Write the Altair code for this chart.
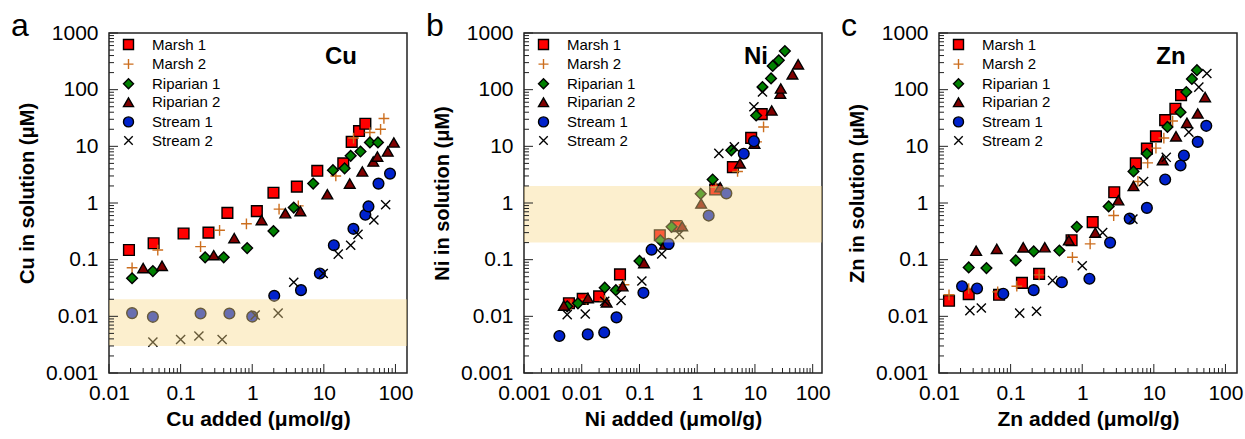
import altair as alt
import pandas as pd

FONT = "Liberation Sans"
SERIES = ["Marsh 1", "Marsh 2", "Riparian 1", "Riparian 2", "Stream 1", "Stream 2"]
SHAPES = ["square", "M-1,0L1,0M0,-1L0,1", "diamond", "triangle-up", "circle",
          "M-0.85,-0.85L0.85,0.85M-0.85,0.85L0.85,-0.85"]
FILLS = ["#FF0000", "transparent", "#008000", "#800000", "#0022CC", "transparent"]
STROKES = ["#000000", "#CC6E1E", "#000000", "#000000", "#000000", "#000000"]

# ---------------- Cu (panel a) ----------------
cu_m1_x = [0.019, 0.042, 0.11, 0.245, 0.45, 1.16, 1.98, 4.2, 8.1, 18.7, 24.5, 31, 38]
cu_m1_y = [0.148, 0.195, 0.29, 0.30, 0.67, 0.72, 1.52, 1.95, 3.7, 5.0, 12, 18.6, 25]
cu_m2_x = [0.021, 0.048, 0.19, 0.35, 0.83, 2.37, 4.4, 14.7, 26, 44, 62, 69]
cu_m2_y = [0.072, 0.148, 0.17, 0.33, 0.43, 0.78, 0.89, 3.0, 14, 17.5, 20, 31]
cu_r1_x = [0.021, 0.041, 0.22, 0.40, 0.85, 1.98, 3.8, 7.1, 13.4, 19.5, 23.7, 32.5, 44, 57]
cu_r1_y = [0.047, 0.063, 0.11, 0.11, 0.16, 0.32, 0.83, 2.2, 3.8, 4.1, 6.8, 8.1, 11.7, 11.7]
cu_r2_x = [0.030, 0.055, 0.29, 0.56, 1.35, 2.9, 4.7, 11.2, 23, 34.5, 49, 56, 78, 95]
cu_r2_y = [0.071, 0.078, 0.12, 0.24, 0.50, 0.66, 0.72, 1.43, 2.2, 3.6, 5.4, 6.6, 8.1, 11.7]
cu_s1_x = [0.021, 0.041, 0.19, 0.48, 1.0, 2.03, 4.8, 8.8, 13.8, 25.9, 38, 42, 58, 84]
cu_s1_y = [0.0114, 0.0098, 0.0112, 0.0112, 0.0099, 0.023, 0.029, 0.057, 0.18, 0.35, 0.62, 0.87, 2.2, 3.3]
cu_s2_x = [0.041, 0.1, 0.18, 0.38, 1.1, 2.3, 3.8, 9.8, 15.9, 23.7, 30, 50, 73]
cu_s2_y = [0.0035, 0.0039, 0.0045, 0.0039, 0.0105, 0.0114, 0.040, 0.057, 0.125, 0.18, 0.28, 0.50, 0.93]
cu_band = [0.003, 0.02]

# ---------------- Ni (panel b) ----------------
ni_m1_x = [0.006, 0.0104, 0.020, 0.046, 0.225, 0.43, 2.05, 4.15, 8.6, 13.1]
ni_m1_y = [0.017, 0.0203, 0.0225, 0.055, 0.27, 0.39, 1.73, 4.3, 14.1, 37]
ni_m2_x = [0.0065, 0.012, 0.025, 0.054, 0.53, 2.1, 5.0, 10.7, 14.1]
ni_m2_y = [0.016, 0.02, 0.019, 0.036, 0.39, 1.9, 3.6, 12, 22]
ni_r1_x = [0.0056, 0.0086, 0.025, 0.039, 0.10, 0.23, 0.36, 1.15, 1.85, 3.9, 10.5, 13.5, 19, 20.3, 25.9, 33]
ni_r1_y = [0.015, 0.017, 0.032, 0.029, 0.095, 0.22, 0.38, 1.45, 2.6, 8.5, 35, 111, 158, 262, 330, 480]
ni_r2_x = [0.0049, 0.0128, 0.027, 0.051, 0.12, 0.275, 0.55, 1.17, 2.5, 5.5, 9.8, 19.5, 27.5, 28, 44.6, 56]
ni_r2_y = [0.0155, 0.021, 0.0176, 0.034, 0.087, 0.185, 0.39, 0.98, 1.9, 5.0, 11.2, 43, 85, 105, 186, 280]
ni_s1_x = [0.0041, 0.0127, 0.0245, 0.040, 0.117, 0.162, 0.32, 1.58, 3.2, 6.4, 9.6]
ni_s1_y = [0.0045, 0.0048, 0.0052, 0.0096, 0.026, 0.15, 0.19, 0.60, 1.48, 7.4, 12.3]
ni_s2_x = [0.0056, 0.0115, 0.025, 0.048, 0.11, 0.243, 0.49, 2.37, 4.4, 9.6, 13.5]
ni_s2_y = [0.0107, 0.011, 0.0185, 0.019, 0.042, 0.126, 0.28, 7.5, 9.8, 50, 91]
ni_band = [0.2, 2.0]

# ---------------- Zn (panel c) ----------------
zn_m1_x = [0.0138, 0.026, 0.069, 0.144, 0.25, 0.71, 1.40, 2.8, 5.6, 8.0, 10.7, 14.4, 20, 24]
zn_m1_y = [0.0188, 0.0246, 0.024, 0.039, 0.056, 0.22, 0.46, 1.55, 5.0, 9.1, 15, 29, 46, 80]
zn_m2_x = [0.0138, 0.026, 0.066, 0.122, 0.25, 0.73, 1.29, 2.75, 6.0, 8.2, 10.7, 13.8, 18.3]
zn_m2_y = [0.024, 0.031, 0.027, 0.034, 0.054, 0.11, 0.19, 0.60, 2.4, 5.1, 9.3, 14, 28]
zn_r1_x = [0.026, 0.046, 0.118, 0.21, 0.48, 0.84, 2.34, 5.2, 8.0, 15.5, 23.6, 28.4, 34, 40]
zn_r1_y = [0.073, 0.071, 0.097, 0.14, 0.145, 0.38, 0.87, 3.6, 7.4, 22, 40, 91, 155, 221]
zn_r2_x = [0.033, 0.064, 0.15, 0.30, 0.65, 1.52, 3.2, 5.2, 13.3, 20.4, 29, 41, 52]
zn_r2_y = [0.144, 0.155, 0.165, 0.166, 0.22, 0.30, 1.12, 2.0, 5.7, 15, 26, 38, 74]
zn_s1_x = [0.021, 0.034, 0.079, 0.21, 0.52, 1.26, 2.45, 4.6, 8.0, 14.4, 23.6, 26.3, 41, 54]
zn_s1_y = [0.034, 0.031, 0.025, 0.029, 0.040, 0.046, 0.20, 0.53, 0.82, 2.6, 4.6, 6.9, 12, 23]
zn_s2_x = [0.027, 0.039, 0.134, 0.23, 0.385, 1.0, 1.93, 5.1, 7.2, 14.9, 30.8, 42.5, 55]
zn_s2_y = [0.0126, 0.014, 0.0114, 0.0123, 0.043, 0.078, 0.30, 0.52, 2.4, 6.4, 17.8, 111, 193]

Y_MAJOR = [0.001, 0.01, 0.1, 1, 10, 100, 1000]
MINOR_MULT = [2, 3, 4, 5, 6, 7, 8, 9]
X_MAX = 145

W, H = 298, 340


def frame(pairs):
    rows = []
    for name, (xs, ys) in zip(SERIES, pairs):
        for xv, yv in zip(xs, ys):
            rows.append({"s": name, "x": xv, "y": yv})
    return pd.DataFrame(rows)


def legend():
    return alt.Legend(title=None, orient="none", legendX=12, legendY=4,
                      labelFont=FONT, labelFontSize=15, labelColor="black",
                      symbolSize=100, symbolStrokeWidth=1.4, rowPadding=2.6,
                      labelOffset=16, padding=0)


def panel(df, xmin, band, elem, letter, xtitle, ytitle):
    xs = alt.Scale(type="log", domain=[xmin, X_MAX], nice=False)
    ys = alt.Scale(type="log", domain=[0.001, 1000], nice=False)
    x_major = [v for v in Y_MAJOR if xmin <= v <= X_MAX]
    x_minor = [m * d for d in x_major for m in MINOR_MULT if m * d <= X_MAX]
    y_minor = [m * d for d in Y_MAJOR[:-1] for m in MINOR_MULT]
    xaxis = alt.Axis(values=x_major, format="~g", title=xtitle, labelFlush=False,
                     labelOverlap=False, labelPadding=9, titlePadding=5, titleFontSize=21)
    yaxis = alt.Axis(values=Y_MAJOR, format="~g", title=ytitle, labelOverlap=False,
                     labelPadding=11, titlePadding=8, titleY=160, titleFontSize=20)

    pts = alt.Chart(df).mark_point(opacity=1, strokeWidth=1.4, size=115).encode(
        x=alt.X("x:Q", scale=xs, axis=xaxis),
        y=alt.Y("y:Q", scale=ys, axis=yaxis),
        shape=alt.Shape("s:N", scale=alt.Scale(domain=SERIES, range=SHAPES), legend=legend()),
        fill=alt.Fill("s:N", scale=alt.Scale(domain=SERIES, range=FILLS), legend=legend()),
        stroke=alt.Stroke("s:N", scale=alt.Scale(domain=SERIES, range=STROKES), legend=legend()),
    )
    layers = [pts]
    if band is not None:
        layers.append(
            alt.Chart(pd.DataFrame({"lo": [band[0]], "hi": [band[1]]}))
            .mark_rect(color="#F7D88A", opacity=0.42)
            .encode(x=alt.value(0), x2=alt.value(W),
                    y=alt.Y("lo:Q", scale=ys, axis=yaxis), y2="hi:Q")
        )
    for vals, ln in ((Y_MAJOR, 9), (y_minor, 5)):
        layers.append(
            alt.Chart(pd.DataFrame({"v": vals})).mark_rule(color="#222", strokeWidth=1)
            .encode(y=alt.Y("v:Q", scale=ys, axis=yaxis), x=alt.value(0), x2=alt.value(ln))
        )
    for vals, ln in ((x_major, 9), (x_minor, 5)):
        layers.append(
            alt.Chart(pd.DataFrame({"v": vals})).mark_rule(color="#222", strokeWidth=1)
            .encode(x=alt.X("v:Q", scale=xs, axis=xaxis), y=alt.value(H), y2=alt.value(H - ln))
        )
    layers.append(
        alt.Chart(alt.Data(values=[{"t": elem}])).mark_text(
            font=FONT, fontSize=24, fontWeight="bold", align="center", baseline="alphabetic",
            color="black").encode(text="t:N", x=alt.value(232), y=alt.value(31))
    )
    layers.append(
        alt.Chart(alt.Data(values=[{"t": letter}])).mark_text(
            font=FONT, fontSize=32, align="left", baseline="alphabetic",
            color="black").encode(text="t:N", x=alt.value(-98), y=alt.value(3))
    )
    return alt.layer(*layers).properties(width=W, height=H)


pa = panel(frame([(cu_m1_x, cu_m1_y), (cu_m2_x, cu_m2_y), (cu_r1_x, cu_r1_y),
                  (cu_r2_x, cu_r2_y), (cu_s1_x, cu_s1_y), (cu_s2_x, cu_s2_y)]),
           0.01, cu_band, "Cu", "a", "Cu added (μmol/g)", "Cu in solution (μM)")
pb = panel(frame([(ni_m1_x, ni_m1_y), (ni_m2_x, ni_m2_y), (ni_r1_x, ni_r1_y),
                  (ni_r2_x, ni_r2_y), (ni_s1_x, ni_s1_y), (ni_s2_x, ni_s2_y)]),
           0.001, ni_band, "Ni", "b", "Ni added (μmol/g)", "Ni in solution (μM)")
pc = panel(frame([(zn_m1_x, zn_m1_y), (zn_m2_x, zn_m2_y), (zn_r1_x, zn_r1_y),
                  (zn_r2_x, zn_r2_y), (zn_s1_x, zn_s1_y), (zn_s2_x, zn_s2_y)]),
           0.01, None, "Zn", "c", "Zn added (μmol/g)", "Zn in solution (μM)")

chart = (
    alt.hconcat(pa, pb, pc, spacing=117, bounds="flush")
    .resolve_legend(shape="independent", fill="independent", stroke="independent")
    .properties(padding={"left": 10, "top": 9, "right": 0, "bottom": 0}, background="white")
    .configure_view(stroke="#222", strokeWidth=1.5)
    .configure_axis(labelFont=FONT, labelFontSize=21, labelColor="black",
                    titleFont=FONT, titleFontSize=21, titleFontWeight="bold", titleColor="black",
                    ticks=False, tickSize=0, domain=False, grid=False)
)

chart.save("out.html", embed_options={"renderer": "svg", "actions": False})
